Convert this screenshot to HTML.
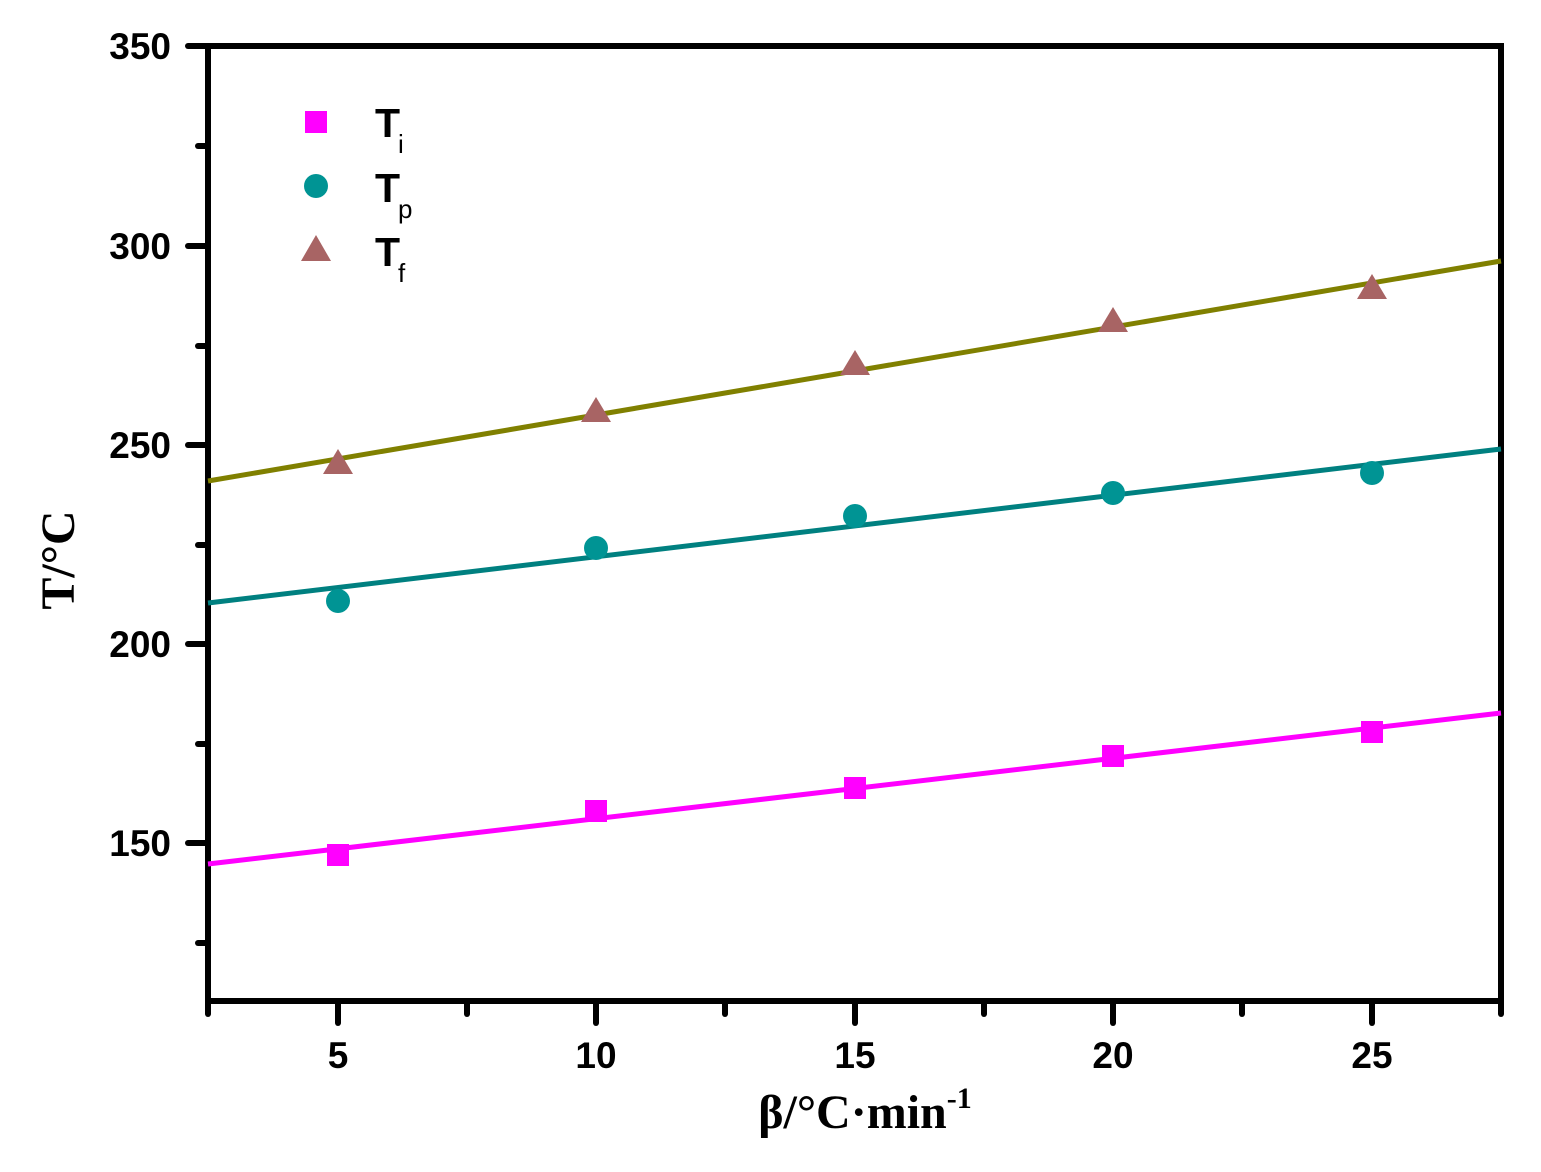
<!DOCTYPE html>
<html><head><meta charset="utf-8"><style>html,body{margin:0;padding:0;background:#fff}</style></head>
<body>
<svg width="1541" height="1167" xmlns="http://www.w3.org/2000/svg">
<rect width="1541" height="1167" fill="#fff"/>
<g stroke="#000" stroke-width="6" stroke-linecap="round">
<rect x="208" y="46" width="1293" height="955" fill="none" stroke-linecap="butt"/>
<line x1="188" y1="46" x2="208" y2="46"/>
<line x1="188" y1="246" x2="208" y2="246"/>
<line x1="188" y1="445" x2="208" y2="445"/>
<line x1="188" y1="644" x2="208" y2="644"/>
<line x1="188" y1="843" x2="208" y2="843"/>
<line x1="198" y1="146" x2="208" y2="146"/>
<line x1="198" y1="346" x2="208" y2="346"/>
<line x1="198" y1="545" x2="208" y2="545"/>
<line x1="198" y1="744" x2="208" y2="744"/>
<line x1="198" y1="943" x2="208" y2="943"/>
<line x1="338" y1="1001" x2="338" y2="1023"/>
<line x1="596" y1="1001" x2="596" y2="1023"/>
<line x1="855" y1="1001" x2="855" y2="1023"/>
<line x1="1113" y1="1001" x2="1113" y2="1023"/>
<line x1="1372" y1="1001" x2="1372" y2="1023"/>
<line x1="208" y1="1001" x2="208" y2="1014"/>
<line x1="467" y1="1001" x2="467" y2="1014"/>
<line x1="725" y1="1001" x2="725" y2="1014"/>
<line x1="984" y1="1001" x2="984" y2="1014"/>
<line x1="1242" y1="1001" x2="1242" y2="1014"/>
<line x1="1501" y1="1001" x2="1501" y2="1014"/>
</g>
<g font-family="Liberation Sans, Arial, sans-serif" font-weight="bold" font-size="37" text-anchor="end">
<text x="171" y="59">350</text>
<text x="171" y="259">300</text>
<text x="171" y="458">250</text>
<text x="171" y="657">200</text>
<text x="171" y="856">150</text>
</g>
<g font-family="Liberation Sans, Arial, sans-serif" font-weight="bold" font-size="37" text-anchor="middle">
<text x="338" y="1068">5</text>
<text x="596" y="1068">10</text>
<text x="855" y="1068">15</text>
<text x="1113" y="1068">20</text>
<text x="1372" y="1068">25</text>
</g>
<g stroke-width="5">
<line x1="208" y1="864" x2="1501" y2="713" stroke="#ff00ff"/>
<line x1="208" y1="603" x2="1501" y2="449" stroke="#008080"/>
<line x1="208" y1="481" x2="1501" y2="261" stroke="#808000"/>
</g>
<g fill="#ff00ff">
<rect x="327" y="844" width="22" height="22"/>
<rect x="585" y="800" width="22" height="22"/>
<rect x="844" y="777" width="22" height="22"/>
<rect x="1102" y="745" width="22" height="22"/>
<rect x="1361" y="721" width="22" height="22"/>
<rect x="305" y="111" width="22" height="22"/>
</g>
<g fill="#009494">
<circle cx="338" cy="601" r="12"/>
<circle cx="596" cy="548" r="12"/>
<circle cx="855" cy="516" r="12"/>
<circle cx="1113" cy="493" r="12"/>
<circle cx="1372" cy="473" r="12"/>
<circle cx="316" cy="186" r="12"/>
</g>
<g fill="#a86464">
<polygon points="338,449 323,474 353,474"/>
<polygon points="596,397 581,422 611,422"/>
<polygon points="855,350 840,375 870,375"/>
<polygon points="1113,307 1098,332 1128,332"/>
<polygon points="1372,274 1357,299 1387,299"/>
<polygon points="316,235 301,261 331,261"/>
</g>
<g font-family="Liberation Sans, Arial, sans-serif" font-weight="bold" font-size="41">
<text x="375" y="137">T</text><text x="398" y="153" font-size="26" font-weight="normal">i</text>
<text x="375" y="202">T</text><text x="398" y="218" font-size="26" font-weight="normal">p</text>
<text x="375" y="266">T</text><text x="398" y="282" font-size="26" font-weight="normal">f</text>
</g>
<text x="865" y="1128" text-anchor="middle" font-family="Liberation Serif, Times New Roman, serif" font-weight="bold" font-size="48">β/°C·min<tspan dy="-20" font-size="30">-1</tspan></text>
<text transform="translate(74,560) rotate(-90)" text-anchor="middle" font-family="Liberation Serif, Times New Roman, serif" font-weight="bold" font-size="48">T/°C</text>
</svg>
</body></html>
